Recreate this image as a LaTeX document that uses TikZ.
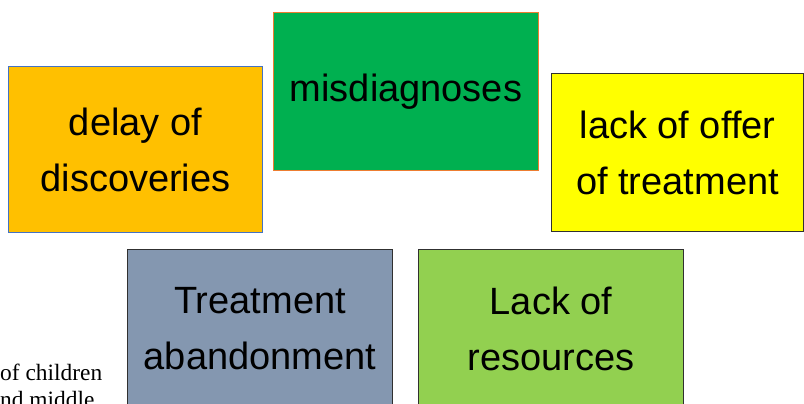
\documentclass[tikz,border=0pt]{standalone}
\usepackage{fontspec}
\setmainfont{Liberation Sans}
\newfontfamily\bodyserif{Liberation Serif}
\usepackage{xcolor}
\definecolor{boxorange}{HTML}{FFC000}
\definecolor{boxgreen}{HTML}{00B050}
\definecolor{boxyellow}{HTML}{FFFF00}
\definecolor{boxslate}{HTML}{8497B0}
\definecolor{boxlime}{HTML}{92D050}
\definecolor{edgeblue}{HTML}{4472C4}
\definecolor{edgeorange}{HTML}{ED7D31}
\definecolor{edgedark}{HTML}{303030}
\tikzset{
	causebox/.style={draw, line width=1pt, anchor=north west, align=center, inner sep=0pt,
		font=\fontsize{38}{56}\selectfont, text=black}
}

\begin{document}
\begin{tikzpicture}[x=1pt, y=-1pt]
		\useasboundingbox (0, 0) rectangle (804, 404);

		% top row
		\node[causebox, fill=boxorange, draw=edgeblue, minimum width=254pt, minimum height=166pt] (delay) at (8, 66) {delay of\\discoveries};
		\node[causebox, fill=boxgreen, draw=edgeorange, minimum width=265pt, minimum height=158pt] (misdiag) at (273, 12) {misdiagnoses};
		\node[causebox, fill=boxyellow, draw=edgedark, minimum width=252pt, minimum height=158pt] (offer) at (551, 73) {lack of offer\\of treatment};

		% bottom row
		\node[causebox, fill=boxslate, draw=edgedark, minimum width=265pt, minimum height=158pt] (abandon) at (127, 249) {Treatment\\abandonment};
		\node[causebox, fill=boxlime, draw=edgedark, minimum width=265pt, minimum height=158pt] (resources) at (418, 249) {Lack of\\resources};

		% text behind the boxes
		\node[anchor=base west, align=left, inner sep=0pt, font=\bodyserif\fontsize{23.4}{27}\selectfont] (bodytext) at (0, 407) {of children\\nd middle};
\end{tikzpicture}
\end{document}
